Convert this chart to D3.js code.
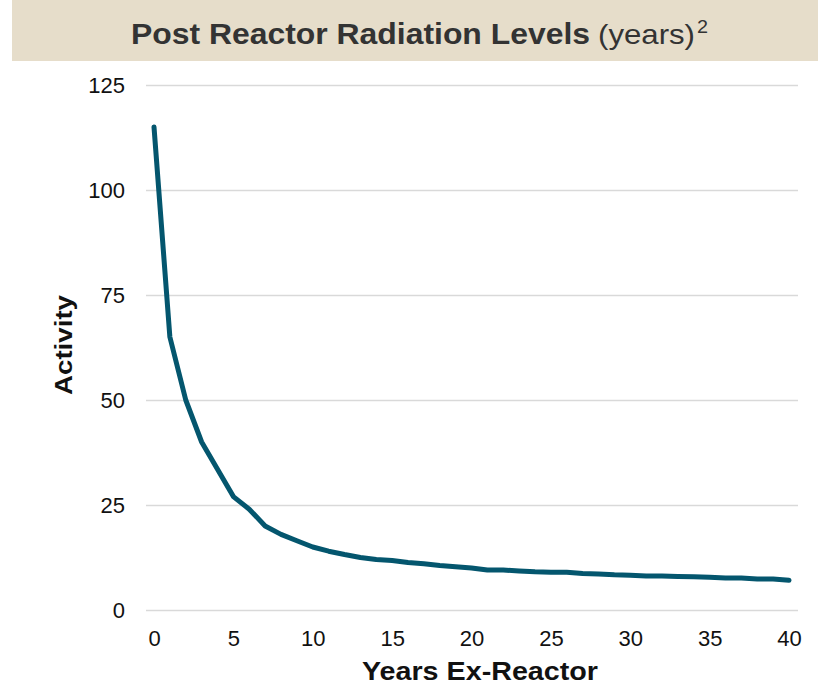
<!DOCTYPE html>
<html><head><meta charset="utf-8">
<script src="https://cdn.jsdelivr.net/npm/d3@7/dist/d3.min.js"></script>
<style>body{margin:0;background:#fff;}svg{display:block;font-family:"Liberation Sans",Arial,sans-serif;}</style>
</head><body>
<svg id="chart" width="825" height="686"></svg>
<script>
const years = d3.range(0, 41);
const activity = [115, 65, 50, 40, 33.5, 27, 24, 20, 18, 16.5, 15, 14, 13.2, 12.5, 12, 11.8, 11.3, 11, 10.6, 10.3, 10, 9.5, 9.5, 9.3, 9.1, 9, 9, 8.7, 8.6, 8.4, 8.3, 8.1, 8.1, 8, 7.9, 7.8, 7.6, 7.6, 7.4, 7.4, 7.1];
const xTicks = [0, 5, 10, 15, 20, 25, 30, 35, 40];
const yTicks = [0, 25, 50, 75, 100, 125];
const titleMain = "Post Reactor Radiation Levels";
const titleSub = "(years)";
const titleSup = "2";
const xTitle = "Years Ex-Reactor";
const yTitle = "Activity";

const svg = d3.select("#chart");
svg.append("rect").attr("x", 12).attr("y", 0).attr("width", 806).attr("height", 61).attr("fill", "#e6ddca");
svg.append("text").attr("x", 131).attr("y", 44).attr("fill", "#333").attr("font-size", 30).attr("font-weight", "bold")
  .attr("textLength", 459).attr("lengthAdjust", "spacingAndGlyphs").text(titleMain);
svg.append("text").attr("x", 598).attr("y", 44).attr("fill", "#333").attr("font-size", 28)
  .attr("textLength", 97).attr("lengthAdjust", "spacingAndGlyphs").text(titleSub);
svg.append("text").attr("x", 697).attr("y", 33).attr("fill", "#333").attr("font-size", 18)
  .attr("textLength", 11).attr("lengthAdjust", "spacingAndGlyphs").text(titleSup);

const x = d3.scaleLinear().domain([0, 40]).range([154, 789]);
const y = d3.scaleLinear().domain([0, 125]).range([610, 85]);

const gy = svg.append("g").attr("transform", "translate(146,0)")
  .call(d3.axisLeft(y).tickValues(yTicks).tickSize(-652).tickPadding(21));
gy.select(".domain").remove();
gy.selectAll(".tick line").attr("stroke", "#d9d9d9").attr("stroke-width", 1.5);
gy.selectAll(".tick text").attr("font-size", 22).attr("fill", "#111").attr("font-family", "Liberation Sans, Arial, sans-serif");

const gx = svg.append("g").attr("transform", "translate(0,610)")
  .call(d3.axisBottom(x).tickValues(xTicks).tickSize(0).tickPadding(20));
gx.select(".domain").remove();
gx.selectAll(".tick text").attr("font-size", 22).attr("fill", "#111").attr("font-family", "Liberation Sans, Arial, sans-serif");

svg.append("text").attr("x", 362).attr("y", 680).attr("font-size", 25).attr("font-weight", "bold").attr("fill", "#111")
  .attr("textLength", 236).attr("lengthAdjust", "spacingAndGlyphs").text(xTitle);
svg.append("text").attr("transform", "translate(72,395) rotate(-90)").attr("font-size", 23).attr("font-weight", "bold").attr("fill", "#111")
  .attr("textLength", 100).attr("lengthAdjust", "spacingAndGlyphs").text(yTitle);

const line = d3.line().x((d, i) => x(years[i])).y(d => y(d));
svg.append("path").datum(activity).attr("d", line).attr("fill", "none").attr("stroke", "#04566e").attr("stroke-width", 5).attr("stroke-linecap", "round").attr("stroke-linejoin", "round");
</script>
</body></html>
